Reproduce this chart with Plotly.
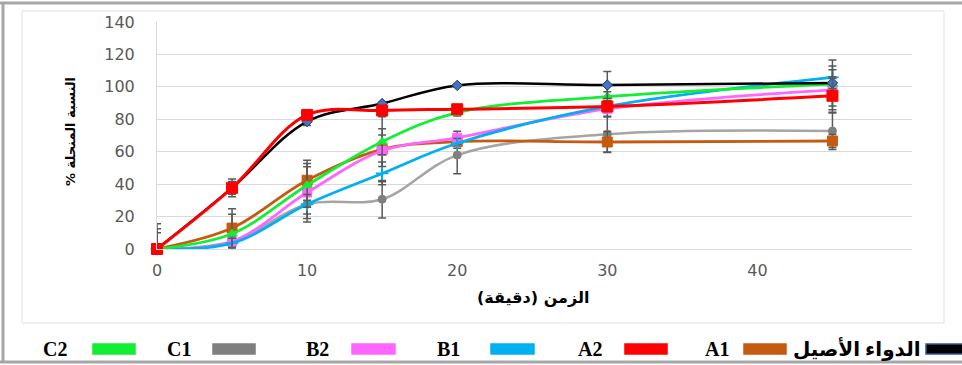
import plotly.graph_objects as go

# ---------------- data ----------------
time_min = [0, 5, 10, 15, 20, 30, 45]
series_names = ["الدواء الأصيل", "A1", "A2", "B1", "B2", "C1", "C2"]

ref_drug = [0, 37.7, 78.6, 89.7, 100.9, 101.1, 102.4]
a1 = [0, 12.9, 42.4, 61.5, 66.2, 66.0, 66.6]
a2 = [0, 37.7, 82.7, 85.4, 86.2, 87.9, 94.5]
b1 = [0, 3.6, 27.6, 46.6, 65.2, 87.9, 105.8]
b2 = [0, 4.6, 34.8, 60.6, 68.6, 86.4, 98.2]
c1 = [0, 4.6, 27.6, 30.7, 57.9, 70.8, 72.8]
c2 = [0, 9.4, 39.3, 66.2, 84.1, 94.0, 101.7]

err_ref = [0, 5.5, 2.5, 1.0, 1.0, 8.3, 14.2]
err_a1 = [15.5, 12.0, 12.4, 20.0, 2.0, 6.5, 4.0]
err_a2 = [0, 4.0, 2.0, 2.0, 2.0, 2.0, 10.7]
err_b1 = [0, 3.0, 6.0, 7.0, 3.0, 3.0, 7.0]
err_b2 = [0, 3.0, 16.0, 9.7, 4.0, 5.0, 12.3]
err_c1 = [10.0, 2.0, 11.0, 11.6, 11.5, 11.0, 11.5]
err_c2 = [12.5, 12.0, 13.5, 8.0, 2.0, 3.0, 4.6]

y_ticks = [0, 20, 40, 60, 80, 100, 120, 140]
x_ticks = [0, 10, 20, 30, 40]
x_title = "الزمن (دقيقة)"
y_title = "النسبة المنحلة %"

# ---------------- styles ----------------
W, H = 962, 365
ML, MR, MT, MB = 157, 50, 22, 116
PW, PH = W - ML - MR, H - MT - MB

def px(x):
    return (x - ML) / PW

def py(y):
    return (H - MB - y) / PH

RLM = "\u200f"

styles = {
    "الدواء الأصيل": dict(line="#000000", mk="diamond", mfill="#4472C4", mline="#1F3864", size=8, width=2.5,
                          sw_fill="#000000", sw_line="#2F5597"),
    "A1": dict(line="#C55A11", mk="square", mfill="#C55A11", mline="#C55A11", size=10, width=2.8,
               sw_fill="#C55A11", sw_line="#C55A11"),
    "A2": dict(line="#FF0000", mk="square", mfill="#FF0000", mline="#FF0000", size=11, width=3,
               sw_fill="#FF0000", sw_line="#FF0000"),
    "B1": dict(line="#00B0F0", mk="cross-thin", mfill="#00B0F0", mline="#00B0F0", size=9, width=2.8,
               sw_fill="#00B0F0", sw_line="#00B0F0"),
    "B2": dict(line="#FF66FF", mk="square", mfill="#FF66FF", mline="#FF66FF", size=9, width=2.8,
               sw_fill="#FF66FF", sw_line="#FF66FF"),
    "C1": dict(line="#A5A5A5", mk="circle", mfill="#7F7F7F", mline="#7F7F7F", size=8, width=2.5,
               sw_fill="#7F7F7F", sw_line="#7F7F7F"),
    "C2": dict(line="#11EE33", mk="triangle-up", mfill="#11EE33", mline="#11EE33", size=9, width=2.8,
               sw_fill="#11EE33", sw_line="#11EE33"),
}

values = {"الدواء الأصيل": ref_drug, "A1": a1, "A2": a2, "B1": b1, "B2": b2, "C1": c1, "C2": c2}
errors = {"الدواء الأصيل": err_ref, "A1": err_a1, "A2": err_a2, "B1": err_b1, "B2": err_b2,
          "C1": err_c1, "C2": err_c2}

draw_order = ["C1", "A1", "B2", "B1", "C2", "الدواء الأصيل", "A2"]

fig = go.Figure()
for name in draw_order:
    s = styles[name]
    mline_w = 1.8 if s["mk"] == "cross-thin" else 1
    fig.add_trace(go.Scatter(
        x=time_min, y=values[name], name=name, mode="lines+markers",
        line=dict(color=s["line"], width=s["width"], shape="spline", smoothing=1.0),
        marker=dict(symbol=s["mk"], size=s["size"], color=s["mfill"],
                    line=dict(color=s["mline"], width=mline_w)),
        error_y=dict(type="data", array=errors[name], visible=True, color="#595959",
                     thickness=1.5, width=4),
        cliponaxis=False, showlegend=False,
    ))

fig.update_layout(
    width=W, height=H,
    margin=dict(l=ML, r=MR, t=MT, b=MB),
    paper_bgcolor="white", plot_bgcolor="white",
    xaxis=dict(range=[0, 50.3], tickvals=x_ticks, showgrid=False, zeroline=False,
               showline=True, linecolor="#D9D9D9", linewidth=1,
               tickfont=dict(family="DejaVu Sans", size=16, color="#595959"),
               ticklabelstandoff=7),
    yaxis=dict(range=[0, 140], tickvals=y_ticks, showgrid=True, gridcolor="#D9D9D9", gridwidth=1,
               zeroline=False, showline=True, linecolor="#D9D9D9", linewidth=1,
               tickfont=dict(family="DejaVu Sans", size=16, color="#595959"),
               ticklabelstandoff=18),
)

shapes = [
    # outer frame
    dict(type="line", xref="paper", yref="paper", x0=px(0), x1=px(W), y0=py(3), y1=py(3),
         line=dict(color="#A6A6A6", width=3)),
    dict(type="line", xref="paper", yref="paper", x0=px(3), x1=px(3), y0=py(3), y1=py(362),
         line=dict(color="#A6A6A6", width=3)),
    dict(type="line", xref="paper", yref="paper", x0=px(0), x1=px(W), y0=py(362), y1=py(362),
         line=dict(color="#A6A6A6", width=3)),
    # inner box
    dict(type="rect", xref="paper", yref="paper", x0=px(22), x1=px(944), y0=py(11), y1=py(323),
         line=dict(color="#E0E0E0", width=1), layer="below"),
]

annotations = [
    dict(text="<b>" + x_title + "</b>", xref="paper", yref="paper", x=px(533), y=py(297),
         showarrow=False, font=dict(family="DejaVu Sans", size=16, color="#000000"),
         xanchor="center", yanchor="middle"),
    dict(text="<b>" + RLM + y_title + RLM + "</b>", xref="paper", yref="paper", x=px(70), y=py(132),
         showarrow=False, textangle=-90, font=dict(family="DejaVu Sans", size=13, color="#000000"),
         xanchor="center", yanchor="middle"),
]

# manual legend: text on the left, swatch on the right
legend_pos = {  # name: (text right edge, swatch x0, swatch x1)
    "C2": (69, 93, 135), "C1": (193, 213, 255), "B2": (331, 352, 395), "B1": (462, 491, 534),
    "A2": (604, 625, 667), "A1": (731, 744, 786), "الدواء الأصيل": (923, 926, 968),
}
for name in series_names:
    tr, s0, s1 = legend_pos[name]
    s = styles[name]
    shapes.append(dict(type="rect", xref="paper", yref="paper", x0=px(s0), x1=px(s1),
                       y0=py(344), y1=py(354), fillcolor=s["sw_fill"],
                       line=dict(color=s["sw_line"], width=1.5)))
    annotations.append(dict(text="<b>" + name + "</b>", xref="paper", yref="paper",
                            x=px(tr), y=py(349), xanchor="right", yanchor="middle", showarrow=False,
                            font=dict(family="Liberation Serif, DejaVu Sans", size=20, color="#000000")))

fig.update_layout(shapes=shapes, annotations=annotations)
fig.write_html("out.html", config={"displayModeBar": False},
               post_script="document.body.style.margin='0';")
